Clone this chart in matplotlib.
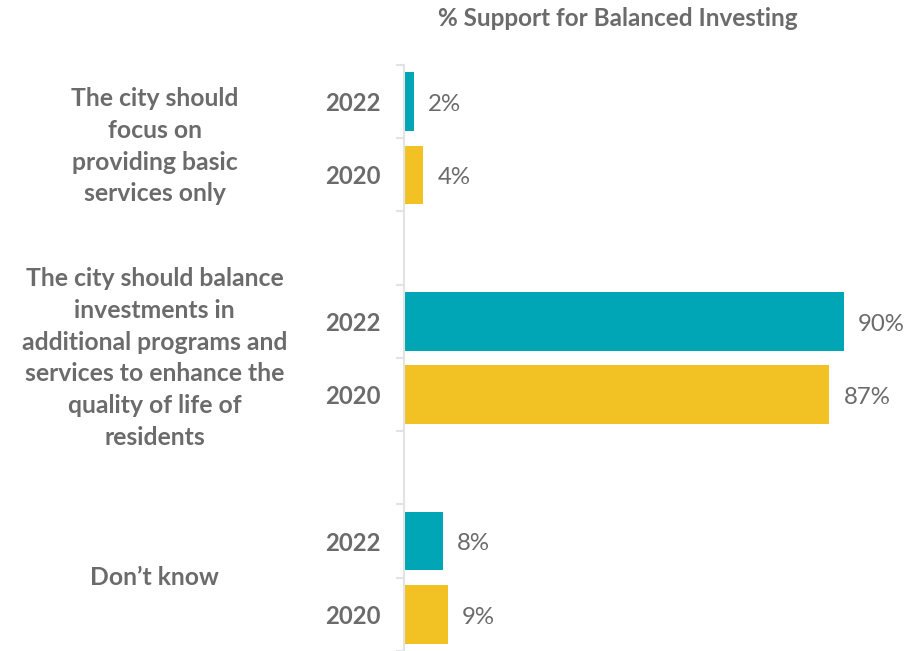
import matplotlib.pyplot as plt
from matplotlib.transforms import blended_transform_factory

categories = [
    "The city should\nfocus on\nproviding basic\nservices only",
    "The city should balance\ninvestments in\nadditional programs and\nservices to enhance the\nquality of life of\nresidents",
    "Don\u2019t know",
]
years = ["2022", "2020"]
values_2022 = [2, 90, 8]
values_2020 = [4, 87, 9]

teal = "#00A6B6"
gold = "#F2C224"
grey = "#6B6B6B"

plt.rcParams['font.family'] = ['Lato', 'DejaVu Sans']

fig = plt.figure(figsize=(9.2, 6.51), dpi=100)
ax = fig.add_axes([0.439, 0.0, 0.561, 0.9002])

# each group gets two bar rows and a spacer row after it
rows, vals, cols, labels = [], [], [], []
for i in range(len(categories)):
    base = i * 3
    rows += [base, base + 1]
    vals += [values_2022[i], values_2020[i]]
    cols += [teal, gold]
    labels += years

ax.barh(rows, vals, height=0.8, color=cols)
for r, v in zip(rows, vals):
    ax.annotate(f"{v}%", (v, r), xytext=(10, -2), textcoords="offset points",
                ha="left", va="center", fontsize=17.3, color=grey)

ax.set_xlim(0, 105.5)
ax.set_ylim(7.5, -0.5)
ax.set_xticks([])
ax.set_yticks(rows)
ax.set_yticklabels(labels, fontsize=17.2, fontweight="bold", color=grey)
ax.tick_params(axis="y", which="major", length=0, pad=17)
ax.set_yticks([r - 0.5 for r in range(9)], minor=True)
ax.tick_params(axis="y", which="minor", length=6, width=1.5, color="#E3E3E3")
for s in ["top", "right", "bottom"]:
    ax.spines[s].set_visible(False)
ax.spines["left"].set_color("#E3E3E3")
ax.spines["left"].set_linewidth(1.5)

# group labels sit in the left margin, roughly centred on their pair of bars
trans = blended_transform_factory(fig.transFigure, ax.transData)
label_y = [0.61, 3.5, 6.5]
for cat, y in zip(categories, label_y):
    fig.text(0.168, y, cat, transform=trans, ha="center", va="center",
             fontsize=17.8, fontweight="bold", color=grey, linespacing=1.46)

fig.text(0.672, 1 - 18 / 651, "% Support for Balanced Investing", ha="center",
         va="center", fontsize=17.5, fontweight="bold", color=grey)

fig.savefig("out.png", dpi=100)
